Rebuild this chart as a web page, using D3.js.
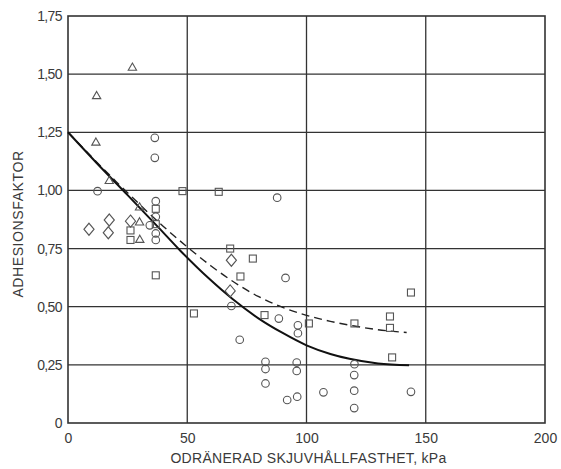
<!DOCTYPE html>
<html>
<head>
<meta charset="utf-8">
<script src="https://cdn.jsdelivr.net/npm/d3@7"></script>
<style>
  html, body { margin: 0; padding: 0; background: #fff; }
  svg { display: block; }
  text { font-family: "Liberation Sans", Arial, sans-serif; fill: #3a3a3a; }
</style>
</head>
<body>
<svg id="chart" width="561" height="469"></svg>
<script>
// Axis ticks (decimal comma labels)
const xTicks = [0, 50, 100, 150, 200];
const yTicks = [0, 0.25, 0.5, 0.75, 1.0, 1.25, 1.5, 1.75];
const yTickLabels = ["0", "0,25", "0,50", "0,75", "1,00", "1,25", "1,50", "1,75"];

// Measurements [undrained shear strength kPa, adhesion factor], by marker type
const circles = [
  [36.4, 1.226], [36.4, 1.14], [12.4, 0.997], [36.8, 0.954], [36.8, 0.887],
  [34.3, 0.85], [36.8, 0.815], [36.8, 0.787], [87.7, 0.969], [91.2, 0.624],
  [68.5, 0.503], [88.4, 0.449], [96.4, 0.42], [96.4, 0.386], [72, 0.358],
  [82.8, 0.263], [82.8, 0.232], [82.8, 0.17], [95.9, 0.26], [95.9, 0.224],
  [91.9, 0.099], [96.1, 0.113], [120.1, 0.253], [120, 0.206], [120, 0.139],
  [120, 0.064], [107.1, 0.132], [143.8, 0.134]
];
const squares = [
  [48, 0.997], [63.2, 0.994], [36.8, 0.921], [36.8, 0.855], [26.2, 0.828],
  [26.2, 0.787], [36.8, 0.635], [68, 0.75], [77.5, 0.707], [72.3, 0.63],
  [52.8, 0.471], [82.4, 0.464], [101, 0.428], [120.1, 0.428], [135, 0.458],
  [135, 0.409], [135.9, 0.282], [143.8, 0.561]
];
const triangles = [
  [27, 1.527], [12, 1.405], [11.7, 1.205], [17.3, 1.04], [30, 0.926],
  [30, 0.862], [30.1, 0.787]
];
const diamonds = [
  [8.8, 0.833], [17.3, 0.873], [16.9, 0.818], [26.2, 0.868], [68.5, 0.70], [68, 0.568]
];

// Design curves
const solidCurve = [
  [0, 1.25], [12, 1.118], [25, 0.98], [38, 0.84], [47, 0.742], [59, 0.622],
  [69, 0.533], [80, 0.449], [90, 0.387], [100, 0.334], [110, 0.297],
  [118, 0.276], [130, 0.256], [143, 0.248]
];
const dashedCurve = [
  [0, 1.25], [20, 1.04], [40, 0.845], [50, 0.757], [60, 0.675], [70, 0.603],
  [80, 0.543], [90, 0.497], [100, 0.463], [110, 0.437], [120, 0.417],
  [130, 0.401], [142, 0.389]
];

const svg = d3.select("#chart");
const plotLeft = 68, plotRight = 545, plotTop = 16, plotBottom = 423;

const x = d3.scaleLinear().domain([0, 200]).range([plotLeft, plotRight]);
const y = d3.scaleLinear().domain([0, 1.75]).range([plotBottom, plotTop]);

const ink = "#333";

// Grid
const grid = svg.append("g").attr("stroke", ink).attr("stroke-width", 1.3);
grid.selectAll("line.v").data(xTicks.slice(1, -1)).join("line").attr("class", "v")
  .attr("x1", d => x(d)).attr("x2", d => x(d)).attr("y1", plotTop).attr("y2", plotBottom);
grid.selectAll("line.h").data(yTicks.slice(1, -1)).join("line").attr("class", "h")
  .attr("y1", d => y(d)).attr("y2", d => y(d)).attr("x1", plotLeft).attr("x2", plotRight);

// Frame
svg.append("rect")
  .attr("x", plotLeft).attr("y", plotTop)
  .attr("width", plotRight - plotLeft).attr("height", plotBottom - plotTop)
  .attr("fill", "none").attr("stroke", ink).attr("stroke-width", 1.6);

// Axes (labels only, no tick marks)
const xAxis = d3.axisBottom(x).tickValues(xTicks).tickSize(0).tickPadding(10)
  .tickFormat(d => String(d));
const gx = svg.append("g").attr("transform", `translate(0,${plotBottom})`).call(xAxis);
gx.select(".domain").remove();
gx.selectAll("text").attr("font-size", 14).attr("fill", "#3a3a3a")
  .attr("font-family", "Liberation Sans, Arial, sans-serif");

const yAxis = d3.axisLeft(y).tickValues(yTicks).tickSize(0).tickPadding(6)
  .tickFormat((d, i) => yTickLabels[i]);
const gy = svg.append("g").attr("transform", `translate(${plotLeft},0)`).call(yAxis);
gy.select(".domain").remove();
gy.selectAll("text").attr("font-size", 14).attr("fill", "#3a3a3a")
  .attr("letter-spacing", -0.6)
  .attr("font-family", "Liberation Sans, Arial, sans-serif");

// Axis titles
svg.append("text")
  .attr("x", (plotLeft + plotRight) / 2 + 2).attr("y", 463)
  .attr("text-anchor", "middle").attr("font-size", 14).attr("letter-spacing", 0.3)
  .text("ODRÄNERAD  SKJUVHÅLLFASTHET, kPa");
svg.append("text")
  .attr("transform", "translate(23,224) rotate(-90)")
  .attr("text-anchor", "middle").attr("font-size", 14).attr("letter-spacing", 0.6)
  .text("ADHESIONSFAKTOR");

// Curves
const line = d3.line().x(d => x(d[0])).y(d => y(d[1])).curve(d3.curveMonotoneX);
svg.append("path").datum(dashedCurve).attr("d", line)
  .attr("fill", "none").attr("stroke", "#222").attr("stroke-width", 1.4)
  .attr("stroke-dasharray", "8,5");
svg.append("path").datum(solidCurve).attr("d", line)
  .attr("fill", "none").attr("stroke", "#111").attr("stroke-width", 2);

// Markers
const mark = svg.append("g").attr("fill", "none").attr("stroke", "#555").attr("stroke-width", 1.1);
mark.selectAll("circle").data(circles).join("circle")
  .attr("cx", d => x(d[0])).attr("cy", d => y(d[1])).attr("r", 3.8);
mark.selectAll("rect").data(squares).join("rect")
  .attr("x", d => x(d[0]) - 3.5).attr("y", d => y(d[1]) - 3.5)
  .attr("width", 7).attr("height", 7);
const tri = d3.symbol().type(d3.symbolTriangle).size(30);
mark.selectAll("path.tri").data(triangles).join("path").attr("class", "tri")
  .attr("transform", d => `translate(${x(d[0])},${y(d[1])})`).attr("d", tri);
const dia = d3.symbol().type(d3.symbolDiamond).size(42);
mark.selectAll("path.dia").data(diamonds).join("path").attr("class", "dia")
  .attr("transform", d => `translate(${x(d[0])},${y(d[1])}) scale(1.45,1)`)
  .attr("d", dia).attr("stroke-width", 0.9);
</script>
</body>
</html>
